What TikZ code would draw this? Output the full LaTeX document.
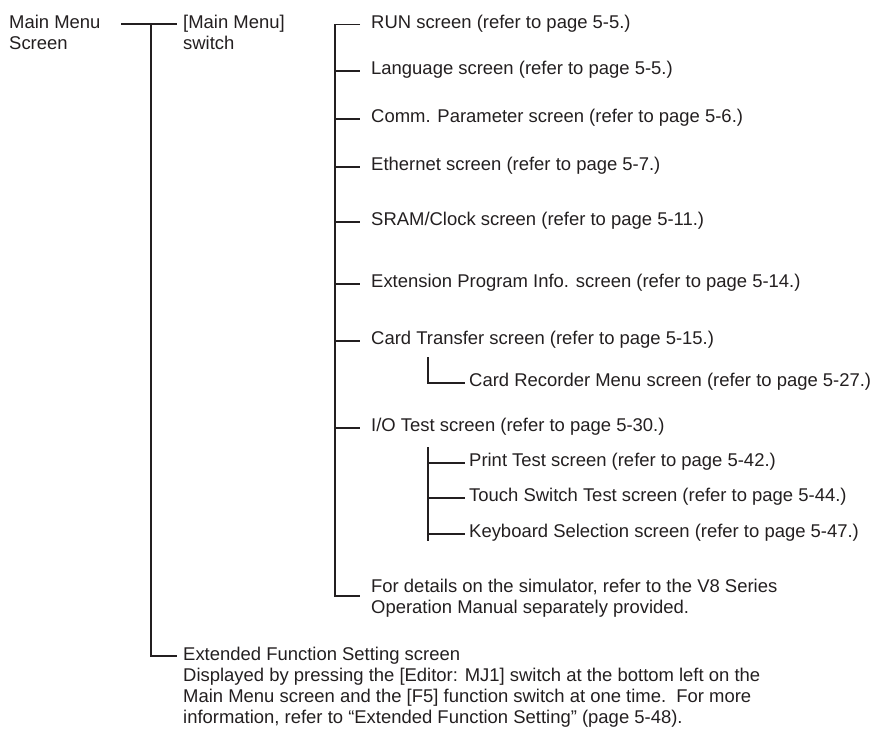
\documentclass[tikz,border=0pt]{standalone}
\usepackage{fontspec}
\setmainfont{Liberation Sans}
\usepackage{tikz}
\usetikzlibrary{calc}
\definecolor{ink}{HTML}{231F20}
\newcommand{\treefont}{\fontsize{18.45}{21}\selectfont}
\tikzset{
  branch/.style={draw=ink, line width=1.9pt},
  leaf/.style={anchor=west, inner xsep=#1, inner ysep=0pt, text=ink, font=\treefont,
               text height=12pt, text depth=5pt},
  leaf/.default=11pt,
  block/.style={anchor=north west, inner sep=0pt, align=left, text=ink, font=\treefont},
}

\begin{document}
\begin{tikzpicture}[x=1pt, y=-1pt]
  \useasboundingbox (0,0) rectangle (879,729);
  % top level
  \node[block] (mm) at (9,15) {Main Menu\\Screen};
  \node[block] (sw) at (183,14.5) {[Main Menu]\\switch};
  \coordinate (mmR) at (121,24);
  \coordinate (t1) at (151,24);
  \coordinate (t2) at (335,24.5);
  % screens reached from the switch
  \node[leaf] (run) at (360,24.5) {RUN screen (refer to page 5-5.)};
  \node[leaf] (lang) at (360,71) {Language screen (refer to page 5-5.)};
  \node[leaf] (comm) at (360,119) {Comm. Parameter screen (refer to page 5-6.)};
  \node[leaf] (eth) at (360,167) {Ethernet screen (refer to page 5-7.)};
  \node[leaf] (sram) at (360,222) {SRAM/Clock screen (refer to page 5-11.)};
  \node[leaf] (ext) at (360,284) {Extension Program Info. screen (refer to page 5-14.)};
  \node[leaf] (card) at (360,341) {Card Transfer screen (refer to page 5-15.)};
  \node[leaf=4pt] (rec) at (465,383) {Card Recorder Menu screen (refer to page 5-27.)};
  \node[leaf] (io) at (360,428) {I/O Test screen (refer to page 5-30.)};
  \node[leaf=4pt] (prn) at (465,463) {Print Test screen (refer to page 5-42.)};
  \node[leaf=4pt] (tsw) at (465,498) {Touch Switch Test screen (refer to page 5-44.)};
  \node[leaf=4pt] (kbd) at (465,534) {Keyboard Selection screen (refer to page 5-47.)};
  \node[block] (sim) at (371,578.5) {For details on the simulator, refer to the V8 Series\\Operation Manual separately provided.};
  \node[block] (efs) at (183,646.5) {Extended Function Setting screen\\Displayed by pressing the [Editor: MJ1] switch at the bottom left on the\\Main Menu screen and the [F5] function switch at one time.\ \ For more\\information, refer to “Extended Function Setting” (page 5-48).};
  % connectors
  \draw[branch] (mmR) -- ($(sw.north west)+(-6,9.5)$);
  \draw[branch] (t1) |- ($(efs.north west)+(-6,9.5)$);
  \draw[branch] (run.west) -- (t2) |- ($(sim.north west)+(-11,17.5)$);
  \foreach \n in {lang,comm,eth,sram,ext,card,io}
    \draw[branch] (t2 |- \n.west) -- (\n.west);
  \coordinate (s1) at (428,357);
  \draw[branch] (s1) |- (rec.west);
  \coordinate (s2) at (428,447);
  \coordinate (s2b) at (428,541);
  \draw[branch] (s2) -- (s2b);
  \foreach \n in {prn,tsw,kbd}
    \draw[branch] (s2 |- \n.west) -- (\n.west);
\end{tikzpicture}
\end{document}
